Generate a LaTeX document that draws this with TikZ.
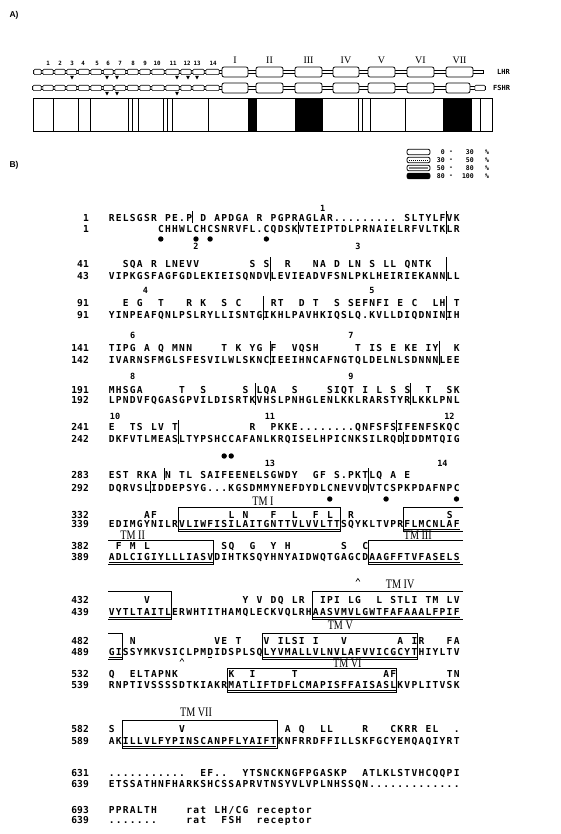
\documentclass[tikz,border=0pt]{standalone}
\usepackage{graphicx}
\usepackage{fontspec}
\setmainfont{Liberation Serif}
\newfontfamily\seqfont{DejaVu Sans Mono}
\newfontfamily\labfont{Liberation Sans}
\newlength\cw
\setlength\cw{7.04pt}
\makeatletter
\def\sq#1{\sq@loop#1\relax}
\def\sq@loop#1{\ifx#1\relax\else\hbox to\cw{\hss\ifx#1_\else#1\fi\hss}\expandafter\sq@loop\fi}
\makeatother
\def\X#1{108+7.04*(#1)}
\tikzset{
  seq/.style={font=\seqfont\bfseries\fontsize{9.6}{11}\selectfont, inner sep=0pt, anchor=base west},
  seqnum/.style={font=\seqfont\bfseries\fontsize{9.6}{11}\selectfont, inner sep=0pt, anchor=base east},
  exn/.style={font=\seqfont\bfseries\fontsize{8.5}{10}\selectfont, inner sep=0pt},
  tmlab/.style={font=\fontsize{13}{14}\selectfont, inner sep=0pt},
  tinylab/.style={font=\seqfont\bfseries\fontsize{5.8}{7}\selectfont, inner sep=0pt},
  romanlab/.style={font=\fontsize{10}{10}\selectfont, inner sep=0pt},
  rlab/.style={font=\seqfont\bfseries\fontsize{7}{8}\selectfont, inner sep=0pt, anchor=west},
  panel/.style={font=\labfont\bfseries\fontsize{8.5}{9}\selectfont, inner sep=0pt},
  leglab/.style={font=\seqfont\bfseries\fontsize{6.5}{7}\selectfont, inner sep=0pt},
  tube/.style={draw, fill=white, line width=0.6pt},
  sbox/.style={draw, fill=white, rounded corners=1.2pt, line width=0.6pt},
  bbox/.style={draw, fill=white, rounded corners=2pt, line width=0.8pt},
  exbar/.style={line width=0.7pt},
  tmbox/.style={line width=0.8pt},
  uline/.style={line width=0.5pt},
}
\newcommand\tmtext[1]{\scalebox{0.78}[1]{#1}}
\newcommand\pair[6]{%
  \node[seqnum] (L#3) at (89,#1+3.5) {#3};
  \node[seq] (Ls#3) at (108,#1+3.5) {\sq{#5}};
  \node[seqnum] (F#4) at (89,#2+3.5) {#4};
  \node[seq] (Fs#4) at (108,#2+3.5) {\sq{#6}};
}
\newcommand\eb[3]{\draw[exbar] ({\X{#1}},#2) -- ({\X{#1}},#3);}
\newcommand\ex[3]{\node[exn] (ex#3) at ({\X{#1}},#2) {#3};}
\newcommand\dt[2]{\fill ({\X{#1+0.5}},#2) circle[radius=2.7];}
\newcommand\ul[3]{\draw[uline] ({\X{#1}+0.5},#3) -- ({\X{#2}-0.5},#3);}
\begin{document}
\begin{tikzpicture}[x=1pt,y=-1pt]
\useasboundingbox (0,0) rectangle (561,834);
\fill[white] (0,0) rectangle (561,834);

% ---------------- Panel A ----------------
\node[panel] (pA) at (14,15) {A)};

% LHR
\draw[tube] (33,70.5) rectangle (483,73.5);
\foreach \a/\b in {33/42,42/54,54/66,66/77.5,77.5/90,90/102.5,102.5/114,114/126.5,126.5/139,139/151,151/165,165/180,180/192,192/205,205/220}
  \draw[sbox] (\a+0.8,69.3) rectangle (\b-0.8,74.7);
\foreach \a/\b in {222/248,256/283,295/322,333/359,368/395,407/434,446/473}
  \draw[bbox] (\a,67) rectangle (\b,77);
\foreach \n/\x in {1/48,2/60,3/72,4/83,5/97,6/108,7/120,8/133,9/145,10/157,11/173,12/187,13/197,14/213}
  \node[tinylab] (n\n) at (\x,63) {\n};
\foreach \r/\x in {I/235,II/269.5,III/308.5,IV/346,V/381.5,VI/420.5,VII/459.5}
  \node[romanlab] (r\r) at (\x,60) {\r};
\foreach \x in {72,107,117,177,188,197}
  \fill (\x-1.8,76) -- (\x+1.8,76) -- (\x,79.5) -- cycle;
\node[rlab] (lhr) at (497,72) {LHR};

% FSHR
\draw[tube] (32,86.5) rectangle (485,89.5);
\foreach \a/\b in {32/42,42/54,54/66,66/77.5,77.5/90,90/102.5,102.5/114,114/126.5,126.5/139,139/151,151/165,165/180,180/192,192/205,205/220,474/486}
  \draw[sbox] (\a+0.8,85.3) rectangle (\b-0.8,90.7);
\foreach \a/\b in {222/248,256/283,295/322,333/359,368/395,407/434,446/470}
  \draw[bbox] (\a,83) rectangle (\b,93);
\foreach \x in {107,117,177}
  \fill (\x-1.8,92) -- (\x+1.8,92) -- (\x,95.5) -- cycle;
\node[rlab] (fshr) at (493,88) {FSHR};

% identity bar
\fill (248,98) rectangle (257,131);
\fill (295,98) rectangle (323,131);
\fill (443,98) rectangle (472,131);
\draw[line width=0.8pt] (33,98) rectangle (492,131);
\foreach \x in {53,78,90,128,132,138,163,167,172,208,358,362,370,405,480}
  \draw[line width=0.7pt] (\x,98) -- (\x,131);

% legend
\draw[bbox] (407,149.2) rectangle (430,154.8);
\draw[bbox] (407,157.2) rectangle (430,162.8);
\draw[line width=0.4pt, dash pattern=on 1pt off 1pt] (409,160) -- (428,160);
\draw[bbox] (407,165.2) rectangle (430,170.8);
\fill[gray] (409,167.3) rectangle (428,168.7);
\draw[bbox, fill=black] (407,173.2) rectangle (430,178.8);
\foreach \y/\a/\b in {152/0/30,160/30/50,168/50/80,176/80/100}{
  \node[leglab, anchor=east] (la\y) at (445,\y) {\a};
  \node[leglab] (lm\y) at (451,\y) {-};
  \node[leglab, anchor=east] (lb\y) at (474,\y) {\b};
  \node[leglab] (lp\y) at (487,\y) {\%};
}

% ---------------- Panel B ----------------
\node[panel] (pB) at (14,165) {B)};

\pair{218}{229}{1}{1}{RELSGSR_PE.P_D_APDGA_R_PGPRAGLAR........._SLTYLFVK}{_______CHHWLCHCSNRVFL.CQDSKVTEIPTDLPRNAIELRFVLTKLR}
\pair{264}{276}{41}{43}{__SQA_R_LNEVV_______S_S__R___NA_D_LN_S_LL_QNTK____}{VIPKGSFAGFGDLEKIEISQNDVLEVIEADVFSNLPKLHEIRIEKANNLL}
\pair{303}{315}{91}{91}{__E_G__T___R_K__S_C____RT__D_T__S_SEFNFI_E_C__LH_T}{YINPEAFQNLPSLRYLLISNTGIKHLPAVHKIQSLQ.KVLLDIQDNINIH}
\pair{348}{360}{141}{142}{TIPG_A_Q_MNN____T_K_YG_F__VQSH_____T_IS_E_KE_IY__K}{IVARNSFMGLSFESVILWLSKNCIEEIHNCAFNGTQLDELNLSDNNNLEE}
\pair{390}{400}{191}{192}{MHSGA_____T__S_____S_LQA__S____SIQT_I_L_S_S__T__SK}{LPNDVFQGASGPVILDISRTKVHSLPNHGLENLKKLRARSTYRLKKLPNL}
\pair{427}{439}{241}{242}{E__TS_LV_T__________R__PKKE........QNFSFSIFENFSKQC}{DKFVTLMEASLTYPSHCCAFANLKRQISELHPICNKSILRQDIDDMTQIG}
\pair{475}{488}{283}{292}{EST_RKA_N_TL_SAIFEENELSGWDY__GF_S.PKTLQ_A_E_______}{DQRVSLIDDEPSYG...KGSDMMYNEFDYDLCNEVVDVTCSPKPDAFNPC}
\pair{515}{524}{332}{339}{_____AF__________L_N___F__L__F_L__R_____________S_}{EDIMGYNILRVLIWFISILAITGNTTVLVVLTTSQYKLTVPRFLMCNLAF}
\pair{546}{557}{382}{389}{_F_M_L__________SQ__G__Y_H_______S__C_____________}{ADLCIGIYLLLIASVDIHTKSQYHNYAIDWQTGAGCDAAGFFTVFASELS}
\pair{600}{612}{432}{439}{_____V_____________Y_V_DQ_LR__IPI_LG__L_STLI_TM_LV}{VYTLTAITLERWHTITHAMQLECKVQLRHAASVMVLGWTFAFAAALFPIF}
\pair{641}{652}{482}{489}{___N___________VE_T___V_ILSI_I___V_______A_IR___FA}{GISSYMKVSICLPMDIDSPLSQLYVMALLVLNVLAFVVICGCYTHIYLTV}
\pair{674}{685}{532}{539}{Q__ELTAPNK_______K__I_____T____________AF_______TN}{RNPTIVSSSSDTKIAKRMATLIFTDFLCMAPISFFAISASLKVPLITVSK}
\pair{729}{741}{582}{589}{S_________V______________A_Q__LL____R___CKRR_EL__.}{AKILLVLFYPINSCANPFLYAIFTKNFRRDFFILLSKFGCYEMQAQIYRT}
\pair{773}{784}{631}{639}{...........__EF..__YTSNCKNGFPGASKP__ATLKLSTVHCQQPI}{ETSSATHNFHARKSHCSSAPRVTNSYVLVPLNHSSQN.............}
\pair{810}{820}{693}{639}{PPRALTH____rat_LH/CG_receptor}{.......____rat__FSH__receptor}

% exon boundary bars
\eb{12}{211}{223} \eb{27}{222}{234} \eb{48}{211}{234}
\eb{23}{257}{281} \eb{48}{257}{281}
\eb{22}{296}{320} \eb{48}{296}{320}
\eb{23}{341}{365} \eb{47}{341}{365}
\eb{21}{383}{405} \eb{43}{383}{405}
\eb{10}{420}{444} \eb{41}{420}{432} \eb{42}{432}{444}
\eb{8}{468}{480} \eb{6}{481}{493} \eb{37}{468}{493}

% exon numbers
\ex{30.5}{208}{1}
\ex{12.5}{246}{2} \ex{35.5}{246}{3}
\ex{5.3}{290}{4} \ex{37.5}{290}{5}
\ex{3.5}{335}{6} \ex{34.5}{335}{7}
\ex{3.5}{376}{8} \ex{34.5}{376}{9}
\ex{1}{416}{10} \ex{23}{416}{11} \ex{48.5}{416}{12}
\ex{23}{463}{13} \ex{47.5}{463}{14}

% cysteine dots
\dt{7}{239} \dt{12}{239} \dt{14}{239} \dt{22}{239}
\dt{16}{456} \dt{17}{456}
\dt{31}{499} \dt{39}{499} \dt{49}{499}

% transmembrane boxes
\draw[tmbox] ({\X{10}},507.5) rectangle ({\X{33}},531);
\ul{10}{33}{529}
\draw[tmbox] ({\X{50}+3},507.5) -- ({\X{42}},507.5) -- ({\X{42}},531) -- ({\X{50}+3},531);
\ul{42}{50}{529}

\draw[tmbox] ({\X{0}},540.5) -- ({\X{15}},540.5) -- ({\X{15}},564) -- ({\X{0}},564);
\ul{0}{15}{562}
\draw[tmbox] ({\X{50}+3},540.5) -- ({\X{37}},540.5) -- ({\X{37}},564) -- ({\X{50}+3},564);
\ul{37}{50}{562}

\draw[tmbox] ({\X{0}},591) -- ({\X{9}},591) -- ({\X{9}},619) -- ({\X{0}},619);
\ul{0}{9}{617}
\draw[tmbox] ({\X{50}+3},591) -- ({\X{29}},591) -- ({\X{29}},619) -- ({\X{50}+3},619);
\ul{29}{50}{617}

\draw[tmbox] ({\X{0}},633) -- ({\X{2}},633) -- ({\X{2}},659) -- ({\X{0}},659);
\ul{0}{2}{657}
\draw[tmbox] ({\X{22}},633) rectangle ({\X{44}},659);
\ul{22}{44}{657}

\draw[tmbox] ({\X{17}},668) rectangle ({\X{41}},692);
\ul{17}{41}{690}

\draw[tmbox] ({\X{2}},720) rectangle ({\X{24}},748);
\ul{2}{24}{746}

% small marks
\draw[line width=0.6pt] ({\X{35.5}-2},581.5) -- ({\X{35.5}},578.5) -- ({\X{35.5}+2},581.5);
\draw[line width=0.6pt] ({\X{10.5}-2},661.5) -- ({\X{10.5}},658.5) -- ({\X{10.5}+2},661.5);
\draw[line width=0.6pt] ({\X{14}+1.5},657.5) -- ({\X{15}-1.5},657.5);

% TM labels
\node[tmlab] (tm1) at ({\X{22}},501) {\tmtext{TM I}};
\node[tmlab] (tm2) at ({\X{3.5}},535.5) {\tmtext{TM II}};
\node[tmlab] (tm3) at ({\X{44}},535.5) {\tmtext{TM III}};
\node[tmlab] (tm4) at ({\X{41.5}},584) {\tmtext{TM IV}};
\node[tmlab] (tm5) at ({\X{33}},625) {\tmtext{TM V}};
\node[tmlab] (tm6) at ({\X{34}},663.5) {\tmtext{TM VI}};
\node[tmlab] (tm7) at ({\X{12.5}},712) {\tmtext{TM VII}};
\end{tikzpicture}
\end{document}
